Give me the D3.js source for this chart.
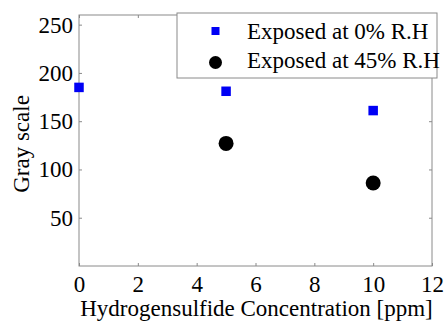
<!DOCTYPE html>
<html>
<head>
<meta charset="utf-8">
<script src="https://cdn.jsdelivr.net/npm/d3@7"></script>
<style>
  body { margin: 0; background: #fff; }
</style>
</head>
<body>
<div id="chart"></div>
<script>
// data
var concentration = [0, 5, 10];
var dry = [185, 181, 161];          // Exposed at 0% R.H
var humidConc = [5, 10];
var humid = [127, 86];              // Exposed at 45% R.H
var xTicks = [0, 2, 4, 6, 8, 10, 12];
var yTicks = [50, 100, 150, 200, 250];
var seriesNames = ["Exposed at 0% R.H", "Exposed at 45% R.H"];

var W = 445, H = 323;
var margin = {top: 15, right: 13, bottom: 57, left: 79};
var width = W - margin.left - margin.right;
var height = H - margin.top - margin.bottom;
var serif = "Liberation Serif";
var fs = 23;

var svg = d3.select("#chart").append("svg")
    .attr("width", W)
    .attr("height", H)
    .attr("font-family", serif);

var g = svg.append("g")
    .attr("transform", "translate(" + margin.left + "," + margin.top + ")");

var x = d3.scaleLinear().domain([0, 12]).range([0, width]);
var y = d3.scaleLinear().domain([0, 260]).range([height, 0]);

// frame
g.append("rect")
    .attr("width", width).attr("height", height)
    .attr("fill", "none").attr("stroke", "#8a8a8a").attr("stroke-width", 1);

// axes with inward ticks
g.append("g")
    .attr("transform", "translate(0," + height + ")")
    .call(d3.axisBottom(x).tickValues(xTicks).tickSize(-3).tickPadding(10));
g.append("g")
    .call(d3.axisLeft(y).tickValues(yTicks).tickSize(-3).tickPadding(6));
// mirrored ticks on top/right
g.append("g").call(d3.axisTop(x).tickValues(xTicks).tickSize(-3).tickFormat(""));
g.append("g").attr("transform", "translate(" + width + ",0)")
    .call(d3.axisRight(y).tickValues(yTicks).tickSize(-3).tickFormat(""));

g.selectAll("g").attr("font-family", serif).attr("font-size", fs);
g.selectAll(".domain").remove();
g.selectAll(".tick line").attr("stroke", "#8a8a8a");
g.selectAll(".tick text")
    .attr("font-family", serif)
    .attr("font-size", fs)
    .attr("fill", "#000");

// labels
svg.append("text")
    .attr("x", margin.left + width / 2 + 1)
    .attr("y", 316)
    .attr("text-anchor", "middle")
    .attr("font-family", serif)
    .attr("font-size", fs)
    .attr("fill", "#000")
    .text("Hydrogensulfide Concentration [ppm]");

svg.append("text")
    .attr("transform", "translate(29,144) rotate(-90)")
    .attr("text-anchor", "middle")
    .attr("font-family", serif)
    .attr("font-size", fs)
    .attr("fill", "#000")
    .text("Gray scale");

// series
g.selectAll(".sq")
    .data(concentration)
    .enter().append("rect")
    .attr("class", "sq")
    .attr("x", function(d) { return x(d) - 4.75; })
    .attr("y", function(d, i) { return y(dry[i]) - 4.75; })
    .attr("width", 9.5).attr("height", 9.5)
    .attr("fill", "#0000f5");

g.selectAll(".dot")
    .data(humidConc)
    .enter().append("circle")
    .attr("class", "dot")
    .attr("cx", function(d) { return x(d); })
    .attr("cy", function(d, i) { return y(humid[i]); })
    .attr("r", 7.5)
    .attr("fill", "#000");

// legend
var lg = svg.append("g").attr("transform", "translate(177,13)");
lg.append("rect")
    .attr("width", 260).attr("height", 65)
    .attr("fill", "#fff").attr("stroke", "#8a8a8a");
lg.append("rect").attr("x", 34.5).attr("y", 14).attr("width", 8).attr("height", 8).attr("fill", "#0000f5");
lg.append("circle").attr("cx", 38.5).attr("cy", 49.5).attr("r", 6.5).attr("fill", "#000");
lg.selectAll(".lt")
    .data(seriesNames)
    .enter().append("text")
    .attr("class", "lt")
    .attr("x", 70)
    .attr("y", function(d, i) { return 26 + i * 29; })
    .attr("font-family", serif)
    .attr("font-size", fs)
    .attr("fill", "#000")
    .text(function(d) { return d; });
</script>
</body>
</html>
